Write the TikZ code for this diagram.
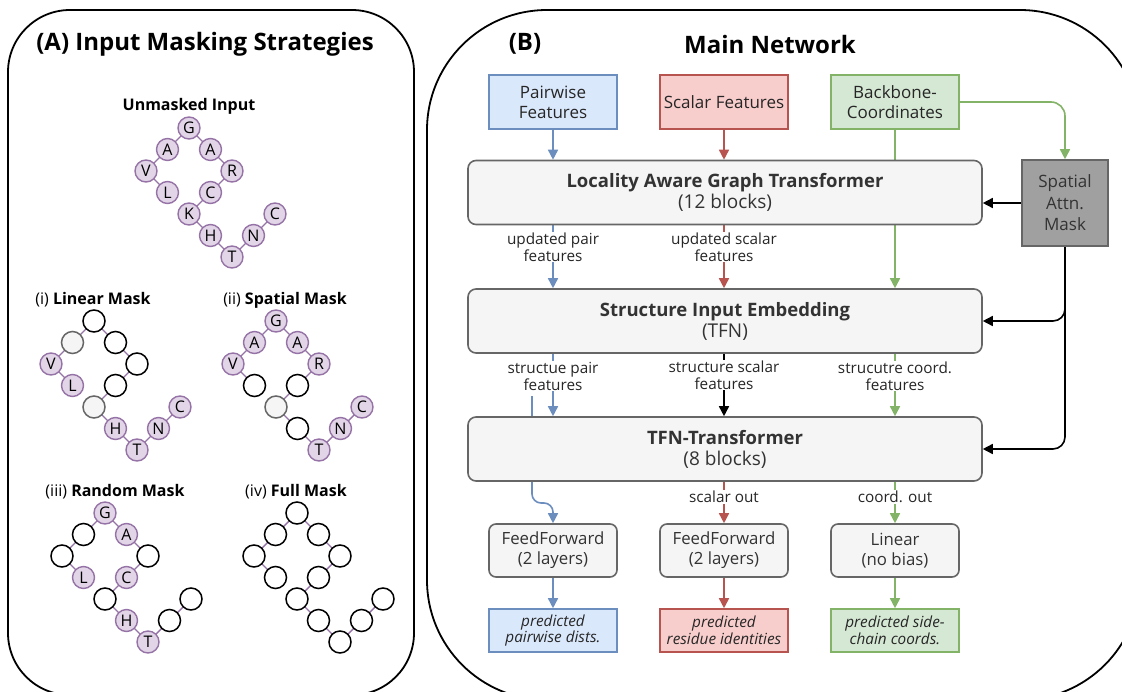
\documentclass[tikz,border=0pt]{standalone}
\usepackage{fontspec}
\setmainfont{Open Sans}
\usetikzlibrary{arrows.meta}
\pgfdeclarelayer{bg}
\pgfsetlayers{bg,main}
\definecolor{lil}{HTML}{E1D5E7}
\definecolor{lilD}{HTML}{9673A6}
\definecolor{bF}{HTML}{DAE8FC}\definecolor{bD}{HTML}{6C8EBF}
\definecolor{rF}{HTML}{F8CECC}\definecolor{rD}{HTML}{B85450}
\definecolor{gF}{HTML}{D5E8D4}\definecolor{gD}{HTML}{82B366}
\definecolor{grF}{HTML}{F5F5F5}\definecolor{grD}{HTML}{666666}
\definecolor{txt}{HTML}{333333}
\definecolor{spF}{HTML}{A0A0A0}
\newcommand\fs[2]{\fontsize{#1}{#2}\selectfont}
\newcommand\btit{\fs{18.5}{21}\bfseries}
\newcommand\protein[3]{%
  \begin{scope}[shift={#2}]
    \foreach \i/\dx/\dy in {1/-1/3,2/-2/2,3/-1/1,4/0/0,5/1/1,6/2/2,7/1/3,8/0/4,9/1/5,10/2/6,11/3/5,12/4/4}
      \coordinate (#1c\i) at (\dx*21.5,\dy*21.5);
    \foreach \i [evaluate=\i as \j using int(\i+1)] in {1,...,11}
      \draw[link] (#1c\i) -- (#1c\j);
    \foreach \i/\st/\lt in {#3}
      \node[\st] (#1-\i) at (#1c\i) {\lt};
  \end{scope}}
\begin{document}
\begin{tikzpicture}[x=1pt,y=-1pt,
  aa/.style={circle,draw=lilD,fill=lil,line width=1.4pt,minimum size=22pt,inner sep=0pt,font=\fs{16}{16}},
  mk/.style={circle,draw=black,fill=white,line width=1.5pt,minimum size=22pt,inner sep=0pt},
  gm/.style={circle,draw=grD,fill=grF,line width=1.5pt,minimum size=22pt,inner sep=0pt},
  link/.style={draw=lilD,line width=1.4pt},
  panel/.style={draw=black,line width=1.8pt},
  ptitle/.style={font=\fs{24}{27}\bfseries,inner sep=0pt},
  mtitle/.style={font=\fs{16}{18},inner sep=0pt},
  inbox/.style={rectangle,line width=1.6pt,minimum width=128pt,minimum height=54pt,align=center,font=\fs{17}{20},text=black!85,inner sep=2pt},
  outbox/.style={rectangle,line width=1.6pt,minimum width=128pt,minimum height=43pt,align=center,font=\fs{15.3}{16.7}\itshape,text=black!85,inner sep=1pt},
  bigbox/.style={rectangle,rounded corners=8pt,draw=grD,fill=grF,line width=1.6pt,minimum width=514pt,minimum height=64pt,align=center,text=txt,font=\fs{19}{21}},
  ffbox/.style={rectangle,rounded corners=7pt,draw=grD,fill=grF,line width=1.6pt,minimum width=128pt,minimum height=53pt,align=center,text=txt,font=\fs{16.8}{20}},
  lbl/.style={fill=white,inner sep=1pt,align=center,font=\fs{15.3}{17},text=black!85},
  arr/.style={line width=1.6pt,-{Triangle[length=10pt,width=10pt]}}
]
\useasboundingbox (0,0) rectangle (1122,691);
\clip (0,0) rectangle (1122,691);
% panels
\draw[panel,rounded corners=62pt] (8,10) rectangle (414,695);
\draw[panel,rounded corners=120pt] (427,10) rectangle (1140,700);
\node[ptitle] (tA) at (205,44) {(A) Input Masking Strategies};
\node[ptitle] (tB1) at (525,44) {(B)};
\node[ptitle] (tB2) at (770,44) {Main Network};
% masking strategies
\node[mtitle,font=\fs{16}{18}\bfseries] (tU) at (189,106) {Unmasked Input};
\protein{un}{(189,128)}{1/aa/L,2/aa/V,3/aa/A,4/aa/G,5/aa/A,6/aa/R,7/aa/C,8/aa/K,9/aa/H,10/aa/T,11/aa/N,12/aa/C}
\node[mtitle] (tL) at (93,300) {(i) \textbf{Linear Mask}};
\protein{li}{(94,321)}{1/aa/L,2/aa/V,3/gm/{},4/mk/{},5/mk/{},6/mk/{},7/mk/{},8/gm/{},9/aa/H,10/aa/T,11/aa/N,12/aa/C}
\node[mtitle] (tS) at (285,300) {(ii) \textbf{Spatial Mask}};
\protein{sp}{(276,321)}{1/mk/{},2/aa/V,3/aa/A,4/aa/G,5/aa/A,6/aa/R,7/mk/{},8/gm/{},9/mk/{},10/aa/T,11/aa/N,12/aa/C}
\node[mtitle] (tR) at (115,492) {(iii) \textbf{Random Mask}};
\protein{ra}{(105,513)}{1/aa/L,2/mk/{},3/mk/{},4/aa/G,5/aa/A,6/mk/{},7/aa/C,8/mk/{},9/aa/H,10/aa/T,11/mk/{},12/mk/{}}
\node[mtitle] (tF) at (296,492) {(iv) \textbf{Full Mask}};
\protein{fu}{(297,513)}{1/mk/{},2/mk/{},3/mk/{},4/mk/{},5/mk/{},6/mk/{},7/mk/{},8/mk/{},9/mk/{},10/mk/{},11/mk/{},12/mk/{}}
% main network boxes
\node[inbox,draw=bD,fill=bF] (pw) at (553,102) {Pairwise\\Features};
\node[inbox,draw=rD,fill=rF] (sc) at (724,102) {Scalar Features};
\node[inbox,draw=gD,fill=gF] (bb) at (895,102) {Backbone-\\Coordinates};
\node[bigbox] (lagt) at (725,192.5) {{\btit Locality Aware Graph Transformer}\\(12 blocks)};
\node[rectangle,draw=grD,fill=spF,line width=1.6pt,minimum width=86pt,minimum height=86pt,align=center,text=txt,font=\fs{17}{21.5}] (spm) at (1065,203) {Spatial\\Attn.\\Mask};
\node[bigbox] (sie) at (725,321) {{\btit Structure Input Embedding}\\(TFN)};
\node[bigbox] (tfn) at (725,449) {{\btit TFN-Transformer}\\(8 blocks)};
\node[ffbox] (ff1) at (553,550.5) {FeedForward\\(2 layers)};
\node[ffbox] (ff2) at (724,550.5) {FeedForward\\(2 layers)};
\node[ffbox] (lin) at (895,550.5) {Linear\\(no bias)};
\node[outbox,draw=bD,fill=bF] (o1) at (553,630.5) {predicted\\pairwise dists.};
\node[outbox,draw=rD,fill=rF] (o2) at (724,630.5) {predicted\\residue identities};
\node[outbox,draw=gD,fill=gF] (o3) at (895,630.5) {predicted side-\\chain coords.};
% labels
\node[lbl] (l1) at (553,247) {updated pair\\features};
\node[lbl] (l2) at (724,247) {updated scalar\\features};
\node[lbl] (l3) at (553,376) {structue pair\\features};
\node[lbl] (l4) at (724,375) {structure scalar\\features};
\node[lbl] (l5) at (895,376) {strucutre coord.\\features};
\node[lbl] (l6) at (724,497) {scalar out};
\node[lbl] (l7) at (895,497) {coord. out};
\coordinate (c532) at (532,396);
% connectors
\begin{pgfonlayer}{bg}
  \draw[arr,bD] (pw.south) -- (pw.south |- lagt.north);
  \draw[arr,rD] (sc.south) -- (sc.south |- lagt.north);
  \draw[arr,gD] (bb.south) -- (bb.south |- sie.north);
  \draw[arr,gD,rounded corners=14pt] (bb.east) -| (spm.north);
  \draw[arr,bD] (pw.south |- lagt.south) -- (pw.south |- sie.north);
  \draw[arr,rD] (sc.south |- lagt.south) -- (sc.south |- sie.north);
  \draw[arr,bD] (pw.south |- sie.south) -- (pw.south |- tfn.north);
  \draw[arr,black] (sc.south |- sie.south) -- (sc.south |- tfn.north);
  \draw[arr,gD] (bb.south |- sie.south) -- (bb.south |- tfn.north);
  \draw[arr,bD,rounded corners=9pt] (c532) -- (532,503) -- (553,503) -- (ff1.north);
  \draw[arr,rD] (ff2.north |- tfn.south) -- (ff2.north);
  \draw[arr,gD] (lin.north |- tfn.south) -- (lin.north);
  \draw[arr,bD] (ff1.south) -- (o1.north);
  \draw[arr,rD] (ff2.south) -- (o2.north);
  \draw[arr,gD] (lin.south) -- (o3.north);
  \draw[arr,black] (spm.west) -- (spm.west -| lagt.east);
  \draw[arr,black,rounded corners=12pt] (spm.south) |- (sie.east);
  \draw[arr,black,rounded corners=12pt] (spm.south) |- (tfn.east);
\end{pgfonlayer}
\end{tikzpicture}
\end{document}
